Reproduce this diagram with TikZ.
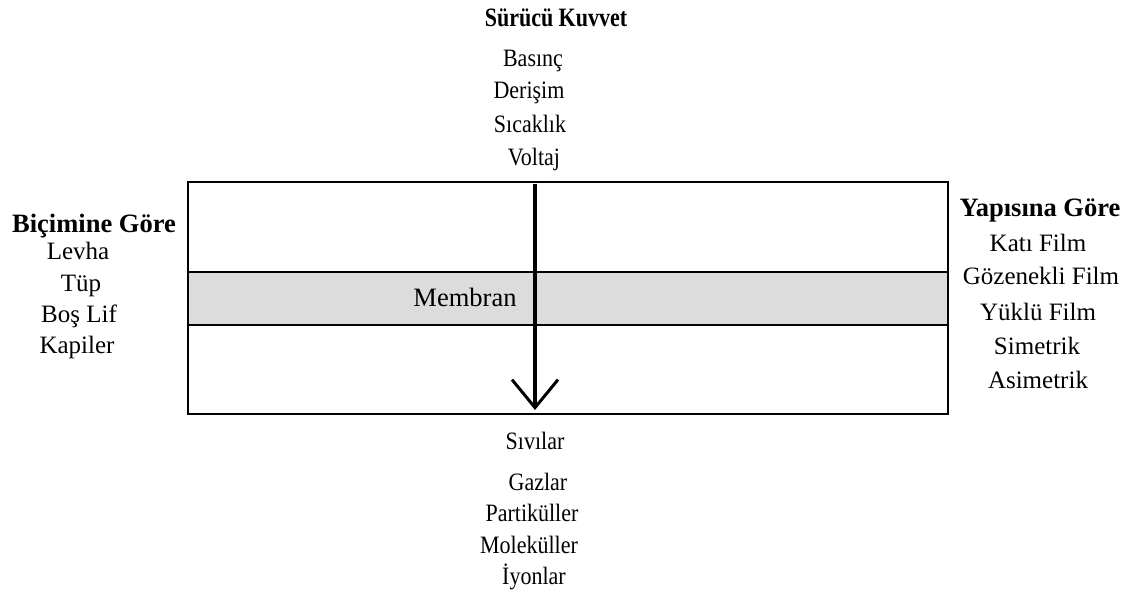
\documentclass[tikz,border=0pt]{standalone}
\usepackage{fontspec}
\setmainfont{Liberation Serif}
\newfontfamily\narrowserif[FakeStretch=0.88]{Liberation Serif}
\newfontfamily\narrowheadserif[FakeStretch=0.83]{Liberation Serif}
\usetikzlibrary{arrows.meta}
\definecolor{bandgray}{RGB}{220,220,220}
\begin{document}
\begin{tikzpicture}[x=1pt,y=-1pt,
  txt/.style={inner sep=0pt,text depth=0pt},
  small/.style={txt,text height=17pt,font=\narrowserif\fontsize{25}{28}\selectfont},
  smallhead/.style={txt,text height=18pt,font=\narrowheadserif\fontsize{26.5}{30}\selectfont\bfseries},
  big/.style={txt,text height=17pt,font=\fontsize{25}{28}\selectfont},
  bighead/.style={txt,text height=18pt,font=\fontsize{26.5}{30}\selectfont\bfseries},
  frame/.style={draw=black,line width=1.4pt},
  flow/.style={line width=3.6pt,-{Straight Barb[length=28pt,width=46pt,line width=3pt]}}]
\useasboundingbox (0,0) rectangle (1130,604);
% membrane module with the membrane layer
\fill[bandgray] (188,272) rectangle (948,325);
\draw[frame] (188,182) rectangle (948,414);
\draw[frame] (188,272) -- (948,272);
\draw[frame] (188,325) -- (948,325);
\node[txt,text height=17pt,font=\fontsize{26.5}{30}\selectfont] (mem) at (465,298) {Membran};
% driving force arrow
\coordinate (ftop) at (535,184);
\coordinate (fbot) at (535,410);
\draw[flow] (ftop) -- (fbot);
% driving forces
\node[smallhead] (dfh) at (556,18) {Sürücü Kuvvet};
\node[small] (d1) at (533,58) {Basınç};
\node[small] (d2) at (529,90) {Derişim};
\node[small] (d3) at (530,124) {Sıcaklık};
\node[small] (d4) at (534,157) {Voltaj};
% permeating species
\node[small] (p1) at (535,441) {Sıvılar};
\node[small] (p2) at (538,482) {Gazlar};
\node[small] (p3) at (532,513) {Partiküller};
\node[small] (p4) at (529,545) {Moleküller};
\node[small] (p5) at (534,576) {İyonlar};
% classification by shape
\node[bighead] (sh) at (94,224) {Biçimine Göre};
\node[big] (s1) at (78,251) {Levha};
\node[big] (s2) at (81,283) {Tüp};
\node[big] (s3) at (79,314) {Boş Lif};
\node[big] (s4) at (77,345) {Kapiler};
% classification by structure
\node[bighead] (th) at (1040,208) {Yapısına Göre};
\node[big] (t1) at (1038,243) {Katı Film};
\node[big] (t2) at (1041,276) {Gözenekli Film};
\node[big] (t3) at (1038,312) {Yüklü Film};
\node[big] (t4) at (1037,346) {Simetrik};
\node[big] (t5) at (1038,380) {Asimetrik};
\end{tikzpicture}
\end{document}
